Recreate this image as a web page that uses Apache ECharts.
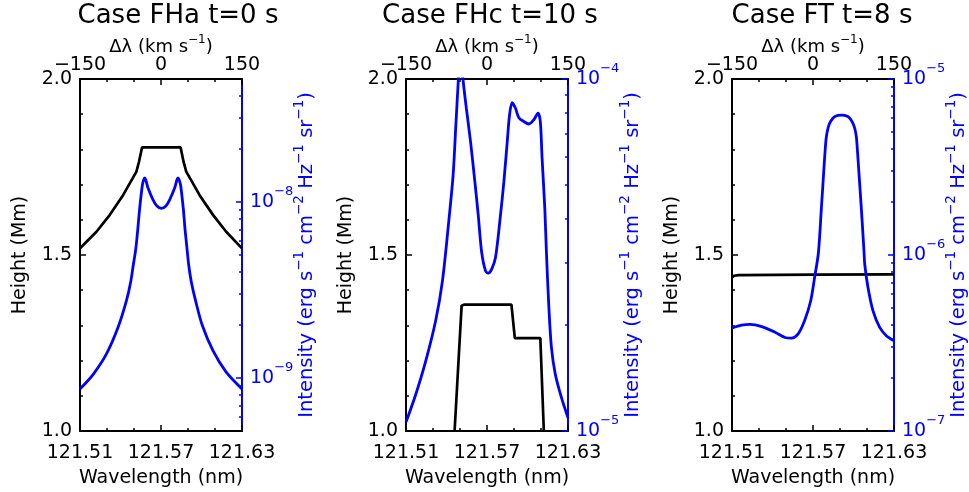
<!DOCTYPE html>
<html><head><meta charset="utf-8">
<script src="https://cdn.jsdelivr.net/npm/echarts@6/dist/echarts.min.js"></script>
<style>html,body{margin:0;padding:0;background:#fff}#c{width:969px;height:492px}</style>
</head><body><div id="c"></div>
<script>
// ---------- data ----------
const titles = ['Case FHa t=0 s', 'Case FHc t=10 s', 'Case FT t=8 s'];
const wlTickLabels = [121.51, 121.57, 121.63];
const velTickLabels = [-150, 0, 150];
const heightTickLabels = [1.0, 1.5, 2.0];

// Case FHa
const fhaHeightWl = [121.51,121.5222,121.5321,121.5419,121.5518,121.5537,121.556,121.5845,121.5867,121.5887,121.5986,121.6085,121.6183,121.63];
const fhaHeight   = [1.519,1.566,1.614,1.670,1.737,1.765,1.806,1.806,1.765,1.737,1.670,1.614,1.566,1.519];
const fhaIntWl = [121.51,121.5198,121.5296,121.5382,121.5444,121.5475,121.5495,121.5513,121.5528,121.5542,121.5562,121.5572,121.5579,121.5588,121.5604,121.5641,121.567,121.5703,121.5736,121.5764,121.5801,121.5817,121.5826,121.5834,121.5845,121.5865,121.5878,121.5893,121.5905,121.5925,121.5956,121.6005,121.6085,121.6183,121.63];
const fhaInt   = [8.67e-10,1.05e-9,1.37e-9,1.94e-9,2.75e-9,3.5e-9,4.4e-9,5.4e-9,7.0e-9,9.2e-9,1.25e-8,1.34e-8,1.37e-8,1.33e-8,1.2e-8,1.03e-8,9.5e-9,9.2e-9,9.5e-9,1.03e-8,1.2e-8,1.33e-8,1.37e-8,1.34e-8,1.25e-8,9.2e-9,7.0e-9,5.4e-9,4.4e-9,3.5e-9,2.75e-9,2.0e-9,1.43e-9,1.08e-9,8.67e-10];
const fhaIntTicks = [1e-9, 1e-8];

// Case FHc
const fhcHeightWl = [121.546,121.5512,121.553,121.5881,121.5906,121.6095,121.6121];
const fhcHeight   = [1.0,1.356,1.359,1.359,1.264,1.264,1.0];
const fhcIntWl = [121.51,121.5172,121.5246,121.532,121.537,121.5419,121.5449,121.5468,121.5488,121.5502,121.5522,121.5547,121.5578,121.561,121.5635,121.566,121.5689,121.5709,121.5734,121.5763,121.58,121.5825,121.585,121.5867,121.5886,121.5911,121.5936,121.5973,121.601,121.6047,121.6078,121.6095,121.6108,121.6128,121.614,121.6157,121.6177,121.6206,121.625,121.63];
const fhcInt   = [1.06e-5,1.27e-5,1.58e-5,2.06e-5,2.67e-5,4.02e-5,5.33e-5,7.24e-5,1.0e-4,1.25e-4,1.0e-4,8.26e-5,6.64e-5,5.11e-5,4.11e-5,3.23e-5,2.85e-5,2.81e-5,2.88e-5,3.11e-5,4.11e-5,5.11e-5,6.64e-5,7.91e-5,8.57e-5,8.26e-5,7.76e-5,7.57e-5,7.45e-5,7.66e-5,8.0e-5,7.57e-5,5.96e-5,4.3e-5,3.23e-5,2.3e-5,1.73e-5,1.45e-5,1.25e-5,1.09e-5];
const fhcIntTicks = [1e-5, 1e-4];

// Case FT
const ftHeightWl = [121.51,121.5115,121.515,121.57,121.63];
const ftHeight   = [1.436,1.441,1.443,1.444,1.445];
const ftIntWl = [121.51,121.5171,121.5233,121.532,121.5419,121.5492,121.5541,121.559,121.5638,121.5683,121.5712,121.574,121.5762,121.5781,121.5791,121.5799,121.5811,121.5823,121.5841,121.586,121.5885,121.591,121.5935,121.5959,121.5979,121.5996,121.6009,121.6021,121.6028,121.6038,121.6058,121.6078,121.6083,121.6107,121.6144,121.6194,121.6243,121.63];
const ftInt   = [3.85e-7,4.0e-7,4.04e-7,3.92e-7,3.64e-7,3.4e-7,3.37e-7,3.56e-7,4.24e-7,5.5e-7,7.46e-7,1.03e-6,1.84e-6,3.11e-6,4.04e-6,4.7e-6,5.25e-6,5.6e-6,5.9e-6,6.11e-6,6.22e-6,6.24e-6,6.22e-6,6.11e-6,5.9e-6,5.6e-6,5.25e-6,4.7e-6,4.04e-6,3.11e-6,1.84e-6,1.04e-6,8.89e-7,6.55e-7,4.83e-7,3.88e-7,3.48e-7,3.26e-7];
const ftIntTicks = [1e-7, 1e-6, 1e-5];

const intRanges = [[5e-10, 5e-8], [1e-5, 1e-4], [1e-7, 1e-5]];

const panels = [
  {title: titles[0], hWl: fhaHeightWl, h: fhaHeight, iWl: fhaIntWl, i: fhaInt, iTicks: fhaIntTicks, iRange: intRanges[0]},
  {title: titles[1], hWl: fhcHeightWl, h: fhcHeight, iWl: fhcIntWl, i: fhcInt, iTicks: fhcIntTicks, iRange: intRanges[1]},
  {title: titles[2], hWl: ftHeightWl, h: ftHeight, iWl: ftIntWl, i: ftInt, iTicks: ftIntTicks, iRange: intRanges[2]}
];

// ---------- layout / style ----------
const FONT = 'DejaVu Sans';
const BLUE = '#0000ff';
const gridLefts = [80, 406, 732];
const titleCenters = [178, 490, 822];
const GT = 79, GW = 162, GH = 352;

function zip(a, b) { return a.map((v, j) => [v, b[j]]); }
function minorLogTicks(r) {
  const out = [];
  const e0 = Math.floor(Math.log10(r[0])), e1 = Math.ceil(Math.log10(r[1]));
  for (let e = e0; e <= e1; e++) for (let m = 2; m <= 9; m++) {
    const v = m * Math.pow(10, e);
    if (v > r[0] * 1.0001 && v < r[1] * 0.9999) out.push(v);
  }
  return out;
}
const minus = v => (v < 0 ? '\u2212' + Math.abs(v) : String(v));

const option = {
  animation: false,
  backgroundColor: '#fff',
  textStyle: {fontFamily: FONT},
  title: [], grid: [], xAxis: [], yAxis: [], series: []
};

panels.forEach((p, k) => {
  option.title.push({
    text: p.title, left: titleCenters[k], top: 3, textAlign: 'center', padding: 0,
    textStyle: {fontFamily: FONT, fontSize: 26, fontWeight: 'normal', color: '#000'}
  });
  option.grid.push({left: gridLefts[k], top: GT, width: GW, height: GH, containLabel: false, outerBoundsMode: 'none'});
  const lineBlack = {show: true, onZero: false, lineStyle: {color: '#000', width: 2}};
  // bottom wavelength axis
  option.xAxis.push({
    type: 'value', gridIndex: k, position: 'bottom', min: wlTickLabels[0], max: wlTickLabels[2], interval: 0.06,
    axisLine: lineBlack,
    axisTick: {show: true, inside: true, length: 6, lineStyle: {color: '#000', width: 1.5}},
    minorTick: {show: true, splitNumber: 3, length: 3, lineStyle: {color: '#000', width: 1.5}},
    splitLine: {show: false}, minorSplitLine: {show: false},
    axisLabel: {show: true, margin: 13, fontSize: 19, color: '#000', fontFamily: FONT,
      customValues: wlTickLabels, formatter: v => v.toFixed(2)},
    name: 'Wavelength (nm)', nameLocation: 'middle', nameGap: 38, nameMoveOverlap: false,
    nameTextStyle: {fontSize: 19, color: '#000', fontFamily: FONT}
  });
  // top velocity axis
  option.xAxis.push({
    type: 'value', gridIndex: k, position: 'top', min: -150, max: 150, interval: 150,
    axisLine: lineBlack,
    axisTick: {show: true, inside: true, length: 6, lineStyle: {color: '#000', width: 1.5}},
    minorTick: {show: true, splitNumber: 3, length: 3, lineStyle: {color: '#000', width: 1.5}},
    splitLine: {show: false},
    axisLabel: {show: true, margin: 4, fontSize: 19, color: '#000', fontFamily: FONT,
      customValues: velTickLabels, formatter: minus},
    name: '\u0394\u03bb (km s{s|\u22121})', nameLocation: 'middle', nameGap: 19, nameMoveOverlap: false,
    nameTextStyle: {fontSize: 18, color: '#000', fontFamily: FONT,
      rich: {s: {fontSize: 12, color: '#000', fontFamily: FONT, padding: [0, 0, 14, 0]}}}
  });
  // left height axis
  option.yAxis.push({
    type: 'value', gridIndex: k, position: 'left', min: 1, max: 2, interval: 0.5,
    axisLine: lineBlack,
    axisTick: {show: true, inside: true, length: 6, lineStyle: {color: '#000', width: 1.5}},
    minorTick: {show: true, splitNumber: 5, length: 3, lineStyle: {color: '#000', width: 1.5}},
    splitLine: {show: false},
    axisLabel: {show: true, margin: 8, fontSize: 19, color: '#000', fontFamily: FONT,
      customValues: heightTickLabels, formatter: v => v.toFixed(1)},
    name: 'Height (Mm)', nameLocation: 'middle', nameGap: 50, nameRotate: 90, nameMoveOverlap: false,
    nameTextStyle: {fontSize: 19, color: '#000', fontFamily: FONT}
  });
  // right intensity axis (major)
  option.yAxis.push({
    type: 'log', logBase: 10, gridIndex: k, position: 'right', min: p.iRange[0], max: p.iRange[1],
    axisLine: {show: true, onZero: false, lineStyle: {color: BLUE, width: 2}},
    axisTick: {show: true, inside: true, length: 6, customValues: p.iTicks, lineStyle: {color: BLUE, width: 1.5}},
    splitLine: {show: false},
    axisLabel: {show: true, margin: 8, color: BLUE, fontFamily: FONT, customValues: p.iTicks,
      formatter: v => '{b|10}{s|\u2212' + Math.abs(Math.round(Math.log10(v))) + '}',
      rich: {b: {fontSize: 19, color: BLUE, fontFamily: FONT},
             s: {fontSize: 13, color: BLUE, fontFamily: FONT, padding: [0, 0, 20, 0]}}},
    name: 'Intensity (erg s{s|\u22121} cm{s|\u22122} Hz{s|\u22121} sr{s|\u22121})',
    nameLocation: 'middle', nameGap: 50, nameRotate: 90, nameMoveOverlap: false,
    nameTextStyle: {fontSize: 19.5, color: BLUE, fontFamily: FONT,
      rich: {s: {fontSize: 13.5, color: BLUE, fontFamily: FONT, padding: [0, 0, 16, 0]}}}
  });
  // right intensity axis (minor ticks)
  option.yAxis.push({
    type: 'log', logBase: 10, gridIndex: k, position: 'right', min: p.iRange[0], max: p.iRange[1],
    axisLine: {show: false, onZero: false},
    axisTick: {show: true, inside: true, length: 3, customValues: minorLogTicks(p.iRange), lineStyle: {color: BLUE, width: 1.5}},
    splitLine: {show: false},
    axisLabel: {show: false}
  });
  option.series.push({
    type: 'line', xAxisIndex: 2 * k, yAxisIndex: 3 * k, data: zip(p.hWl, p.h),
    showSymbol: false, clip: true, lineStyle: {color: '#000', width: 2.7}, itemStyle: {color: '#000'}, z: 3
  });
  option.series.push({
    type: 'line', xAxisIndex: 2 * k, yAxisIndex: 3 * k + 1, data: zip(p.iWl, p.i),
    showSymbol: false, clip: true, smooth: 0.3,
    lineStyle: {color: BLUE, width: 2.8}, itemStyle: {color: BLUE}, z: 4
  });
});

const chart = echarts.init(document.getElementById('c'), null, {renderer: 'canvas'});
chart.setOption(option);
</script>
</body></html>
